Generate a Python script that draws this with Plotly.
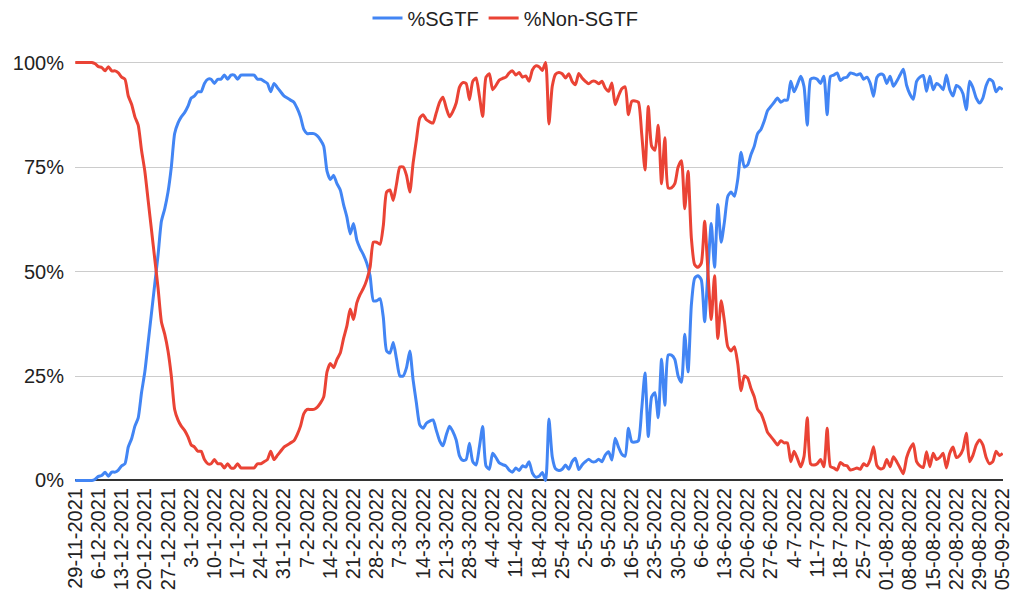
import pandas as pd
import plotly.graph_objects as go

start_date = "2021-11-29"

sgtf = [
    0, 0, 0, 0, 0, 0, 0.3, 1, 1.2, 2,
    1, 2, 2, 2.5, 3.5, 4, 8, 10, 13, 15,
    21, 26, 33, 40, 47, 54, 62, 65, 69, 75,
    83, 85.5, 87, 88, 89.5, 91.5, 92, 93, 93, 95,
    96, 96, 95, 96, 96, 97, 96, 97, 97, 96,
    97, 97, 97, 97, 97, 96, 96, 95.5, 95, 93,
    95, 94, 93, 92, 91.5, 91, 90.5, 89, 87, 84,
    83, 83, 83, 82.5, 81.5, 80, 74, 72, 73, 71,
    69.5, 66, 63, 59, 61.5, 57.5, 55.5, 54, 52, 49,
    43, 43, 43.5, 39, 31, 30.5, 33, 29, 25, 25,
    27, 31, 24, 18.5, 13.3, 12.5, 13.7, 14.2, 14.5, 12,
    9.5, 8.3, 10.9, 13, 11.7, 9.7, 5.9, 4.8, 5, 8.9,
    4.5, 3.7, 8, 12.9, 3.5, 2.7, 6.5, 5.5, 4.2, 3.8,
    3.5, 2.5, 2, 3, 2.4, 3.5, 3.2, 4.5, 1.8, 0.8,
    1, 1.9, 0, 14.7, 5.7, 2.8, 2.4, 2.7, 3.7, 2.7,
    4.5, 5.3, 2.6, 3.7, 4.5, 5.1, 4.5, 4.5, 5.1, 4.5,
    6.1, 6.9, 4.9, 10.1, 8, 6.3, 5.8, 12.5, 9.3, 9.2,
    9.5, 17, 25.7, 10.5, 20, 21, 15, 29, 18, 30,
    30, 29, 25, 23.5, 35, 26, 42, 48.4, 49, 48,
    38, 50, 61.5, 51, 66, 57, 62, 68, 69, 68,
    72, 78.5, 75, 75.5, 78, 80, 83, 84, 86, 88.5,
    89.5, 90.5, 91.5, 90.5, 91, 91, 95.5, 93, 94.7, 96.7,
    94.3, 85, 96, 96.3, 96, 95, 96.7, 87.5, 96.7, 97,
    97.5, 95.7, 96.3, 96.5, 97.5, 97.3, 97, 97.3, 96, 96.5,
    95, 91.9, 96.4, 97.2, 97, 95, 96.7, 94.3, 95.5, 97,
    98.4, 94.5, 92.4, 91.2, 95.5, 96.5, 96.9, 93.1, 96.7, 93.5,
    95, 94.5, 93.5, 97, 93.5, 92, 94.5, 94, 92.5, 88.7,
    95.5, 94, 91.5, 90.3, 91.5, 94.5, 96, 95.5, 93, 94, 93.5,
]

non_sgtf = [
    100, 100, 100, 100, 100, 100, 99.7, 99, 98.8, 98,
    99, 98, 98, 97.5, 96.5, 96, 92, 90, 87, 85,
    79, 74, 67, 60, 53, 46, 38, 35, 31, 25,
    17, 14.5, 13, 12, 10.5, 8.5, 8, 7, 7, 5,
    4, 4, 5, 4, 4, 3, 4, 3, 3, 4,
    3, 3, 3, 3, 3, 4, 4, 4.5, 5, 7,
    5, 6, 7, 8, 8.5, 9, 9.5, 11, 13, 16,
    17, 17, 17, 17.5, 18.5, 20, 26, 28, 27, 29,
    30.5, 34, 37, 41, 38.5, 42.5, 44.5, 46, 48, 51,
    57, 57, 56.5, 61, 69, 69.5, 67, 71, 75, 75,
    73, 69, 76, 81.5, 86.7, 87.5, 86.3, 85.8, 85.5, 88,
    90.5, 91.7, 89.1, 87, 88.3, 90.3, 94.1, 95.2, 95, 91.1,
    95.5, 96.3, 92, 87.1, 96.5, 97.3, 93.5, 94.5, 95.8, 96.2,
    96.5, 97.5, 98, 97, 97.6, 96.5, 96.8, 95.5, 98.2, 99.2,
    99, 98.1, 100, 85.3, 94.3, 97.2, 97.6, 97.3, 96.3, 97.3,
    95.5, 94.7, 97.4, 96.3, 95.5, 94.9, 95.5, 95.5, 94.9, 95.5,
    93.9, 93.1, 95.1, 89.9, 92, 93.7, 94.2, 87.5, 90.7, 90.8,
    90.5, 83, 74.3, 89.5, 80, 79, 85, 71, 82, 70,
    70, 71, 75, 76.5, 65, 74, 58, 51.6, 51, 52,
    62, 50, 38.5, 49, 34, 43, 38, 32, 31, 32,
    28, 21.5, 25, 24.5, 22, 20, 17, 16, 14, 11.5,
    10.5, 9.5, 8.5, 9.5, 9, 9, 4.5, 7, 5.3, 3.3,
    5.7, 15, 4, 3.7, 4, 5, 3.3, 12.5, 3.3, 3,
    2.5, 4.3, 3.7, 3.5, 2.5, 2.7, 3, 2.7, 4, 3.5,
    5, 8.1, 3.6, 2.8, 3, 5, 3.3, 5.7, 4.5, 3,
    1.6, 5.5, 7.6, 8.8, 4.5, 3.5, 3.1, 6.9, 3.3, 6.5,
    5, 5.5, 6.5, 3, 6.5, 8, 5.5, 6, 7.5, 11.3,
    4.5, 6, 8.5, 9.7, 8.5, 5.5, 4, 4.5, 7, 6, 6.5,
]

tick_labels = [
    "29-11-2021", "6-12-2021", "13-12-2021", "20-12-2021", "27-12-2021",
    "3-1-2022", "10-1-2022", "17-1-2022", "24-1-2022", "31-1-2022",
    "7-2-2022", "14-2-2022", "21-2-2022", "28-2-2022",
    "7-3-2022", "14-3-2022", "21-3-2022", "28-3-2022",
    "4-4-2022", "11-4-2022", "18-4-2022", "25-4-2022",
    "2-5-2022", "9-5-2022", "16-5-2022", "23-5-2022", "30-5-2022",
    "6-6-2022", "13-6-2022", "20-6-2022", "27-6-2022",
    "4-7-2022", "11-7-2022", "18-7-2022", "25-7-2022",
    "01-08-2022", "08-08-2022", "15-08-2022", "22-08-2022", "29-08-2022",
    "05-09-2022",
]

y_ticks = [0, 25, 50, 75, 100]
y_tick_labels = ["0%", "25%", "50%", "75%", "100%"]

dates = pd.date_range(start_date, periods=len(sgtf), freq="D")
tick_vals = pd.date_range(start_date, periods=len(tick_labels), freq="7D")

FONT = "Arial, Liberation Sans, sans-serif"

fig = go.Figure()
fig.add_trace(go.Scatter(
    x=dates, y=sgtf, name="%SGTF", mode="lines",
    line=dict(color="#4285F4", width=3, shape="spline", smoothing=0.6),
))
fig.add_trace(go.Scatter(
    x=dates, y=non_sgtf, name="%Non-SGTF", mode="lines",
    line=dict(color="#EA4335", width=3, shape="spline", smoothing=0.6),
))

fig.update_layout(
    width=1011, height=600,
    margin=dict(l=75, r=8, t=60, b=117, autoexpand=False),
    paper_bgcolor="white", plot_bgcolor="white",
    font=dict(family=FONT, size=20, color="#222222"),
    showlegend=True,
    legend=dict(
        orientation="h", xref="container", yref="container",
        x=0.5, xanchor="center", y=0.97, yanchor="middle",
        font=dict(size=20, color="#222222"),
        itemwidth=30,
    ),
    xaxis=dict(
        type="date",
        range=[dates[0] - pd.Timedelta(hours=2), dates[-1] + pd.Timedelta(hours=2)],
        tickmode="array", tickvals=tick_vals, ticktext=tick_labels,
        tickangle=-90, showgrid=False, zeroline=False, showline=False,
        ticks="", tickfont=dict(size=20, color="#222222"), automargin=False,
        ticklabeloverflow="allow",
    ),
    yaxis=dict(
        range=[-0.6, 100.6],
        tickmode="array", tickvals=y_ticks, ticktext=y_tick_labels,
        showgrid=True, gridcolor="#cccccc", gridwidth=1,
        zeroline=True, zerolinecolor="#333333", zerolinewidth=2,
        showline=False, ticks="", tickfont=dict(size=20, color="#222222"),
        automargin=False, ticklabelstandoff=10,
    ),
)

# remove the browser's default 8px body margin so the figure fills the window
fig.write_html(
    "out.html",
    config={"displayModeBar": False},
    post_script="document.body.style.margin='0px';",
)
